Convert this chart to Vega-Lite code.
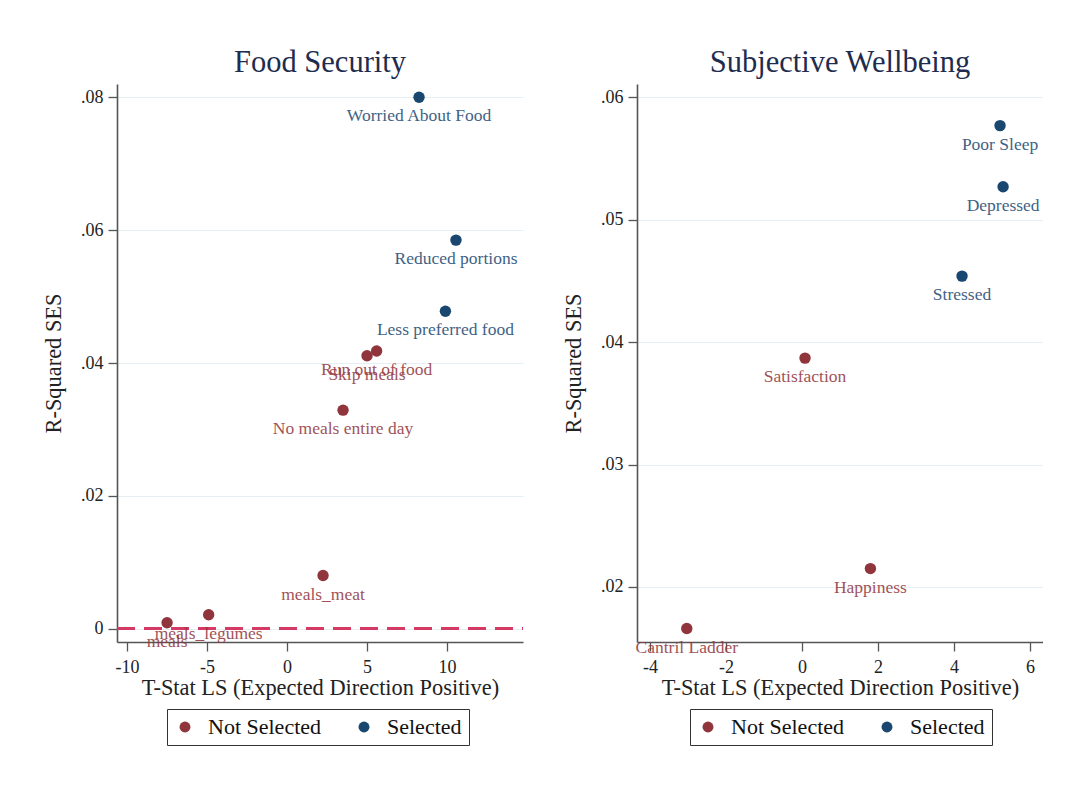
{
  "$schema": "https://vega.github.io/schema/vega-lite/v6.json",
  "background": "white",
  "padding": {"left": 42, "top": 47, "right": 0, "bottom": 0},
  "config": {
    "font": "Liberation Serif",
    "view": {"stroke": null},
    "title": {"font": "Liberation Serif", "fontSize": 30.5, "fontWeight": "normal", "color": "#1e2d4f", "offset": 6},
    "axis": {
      "labelFont": "Liberation Serif", "labelFontSize": 18, "labelColor": "#222222",
      "titleFont": "Liberation Serif", "titleFontSize": 22.4, "titleFontWeight": "normal", "titleColor": "#222222",
      "domainColor": "#555555", "domainWidth": 1.6, "tickColor": "#555555", "tickWidth": 1.3, "tickSize": 9,
      "labelPadding": 5, "gridColor": "#e6eff3", "gridWidth": 1
    },
    "legend": {
      "labelFont": "Liberation Serif", "labelFontSize": 22, "labelColor": "#111111",
      "symbolType": "circle", "symbolSize": 120, "symbolStrokeWidth": 0,
      "strokeColor": "#333333", "padding": 7, "columnPadding": 31, "labelOffset": 12
    }
  },
  "datasets": {
    "food": [
      {"item": "Worried About Food", "tstat": 8.25, "r2": 0.0800, "status": "Selected"},
      {"item": "Reduced portions", "tstat": 10.56, "r2": 0.0585, "status": "Selected"},
      {"item": "Less preferred food", "tstat": 9.9, "r2": 0.0478, "status": "Selected"},
      {"item": "Run out of food", "tstat": 5.6, "r2": 0.0418, "status": "Not Selected"},
      {"item": "Skip meals", "tstat": 5.0, "r2": 0.0411, "status": "Not Selected"},
      {"item": "No meals entire day", "tstat": 3.5, "r2": 0.0329, "status": "Not Selected"},
      {"item": "meals_meat", "tstat": 2.25, "r2": 0.0080, "status": "Not Selected"},
      {"item": "meals_legumes", "tstat": -4.9, "r2": 0.0021, "status": "Not Selected"},
      {"item": "meals", "tstat": -7.5, "r2": 0.0009, "status": "Not Selected"}
    ],
    "wellbeing": [
      {"item": "Poor Sleep", "tstat": 5.21, "r2": 0.0577, "status": "Selected"},
      {"item": "Depressed", "tstat": 5.29, "r2": 0.0527, "status": "Selected"},
      {"item": "Stressed", "tstat": 4.21, "r2": 0.0454, "status": "Selected"},
      {"item": "Satisfaction", "tstat": 0.08, "r2": 0.0387, "status": "Not Selected"},
      {"item": "Happiness", "tstat": 1.8, "r2": 0.0215, "status": "Not Selected"},
      {"item": "Cantril Ladder", "tstat": -3.03, "r2": 0.0166, "status": "Not Selected"}
    ]
  },
  "hconcat": [
    {
      "title": "Food Security",
      "width": 406,
      "height": 558,
      "data": {"name": "food"},
      "encoding": {
        "x": {
          "field": "tstat", "type": "quantitative",
          "scale": {"domain": [-10.63, 14.75], "nice": false, "zero": false},
          "axis": {"values": [-10, -5, 0, 5, 10], "grid": false, "title": "T-Stat LS (Expected Direction Positive)", "titlePadding": 0,
                   "labelPadding": 7, "labelExpr": "'' + datum.value"}
        },
        "y": {
          "field": "r2", "type": "quantitative",
          "scale": {"domain": [-0.002, 0.082], "nice": false, "zero": false},
          "axis": {"values": [0, 0.02, 0.04, 0.06, 0.08], "grid": true, "title": "R-Squared SES", "titlePadding": 15,
                   "labelExpr": "datum.value == 0 ? '0' : replace(format(datum.value, '.2f'), '0.', '.')"}
        }
      },
      "layer": [
        {
          "mark": {"type": "rule", "color": "#d43a64", "strokeWidth": 2.4, "strokeDash": [18, 9]},
          "encoding": {"y": {"datum": 0}, "x": {"value": 0}, "x2": {"value": 406}}
        },
        {
          "mark": {"type": "circle", "size": 130, "opacity": 1},
          "encoding": {
            "color": {
              "field": "status", "type": "nominal",
              "scale": {"domain": ["Not Selected", "Selected"], "range": ["#90353b", "#1a476f"]},
              "legend": {"title": null, "orient": "none", "direction": "horizontal", "legendX": 50, "legendY": 625}
            }
          }
        },
        {
          "mark": {"type": "text", "fontSize": 17.5, "baseline": "middle", "dy": 19, "opacity": 0.85},
          "encoding": {
            "text": {"field": "item"},
            "color": {"field": "status", "type": "nominal", "legend": null}
          }
        }
      ]
    },
    {
      "title": "Subjective Wellbeing",
      "width": 406,
      "height": 558,
      "data": {"name": "wellbeing"},
      "encoding": {
        "x": {
          "field": "tstat", "type": "quantitative",
          "scale": {"domain": [-4.34, 6.34], "nice": false, "zero": false},
          "axis": {"values": [-4, -2, 0, 2, 4, 6], "grid": false, "title": "T-Stat LS (Expected Direction Positive)", "titlePadding": 0,
                   "labelPadding": 7, "labelExpr": "'' + datum.value"}
        },
        "y": {
          "field": "r2", "type": "quantitative",
          "scale": {"domain": [0.0155, 0.0611], "nice": false, "zero": false},
          "axis": {"values": [0.02, 0.03, 0.04, 0.05, 0.06], "grid": true, "title": "R-Squared SES", "titlePadding": 15,
                   "labelExpr": "replace(format(datum.value, '.2f'), '0.', '.')"}
        }
      },
      "layer": [
        {
          "mark": {"type": "circle", "size": 130, "opacity": 1},
          "encoding": {
            "color": {
              "field": "status", "type": "nominal",
              "scale": {"domain": ["Not Selected", "Selected"], "range": ["#90353b", "#1a476f"]},
              "legend": {"title": null, "orient": "none", "direction": "horizontal", "legendX": 53, "legendY": 625}
            }
          }
        },
        {
          "mark": {"type": "text", "fontSize": 17.5, "baseline": "middle", "dy": 19, "opacity": 0.85},
          "encoding": {
            "text": {"field": "item"},
            "color": {"field": "status", "type": "nominal", "legend": null}
          }
        }
      ]
    }
  ],
  "spacing": 37,
  "resolve": {"scale": {"color": "independent"}, "legend": {"color": "independent"}}
}
